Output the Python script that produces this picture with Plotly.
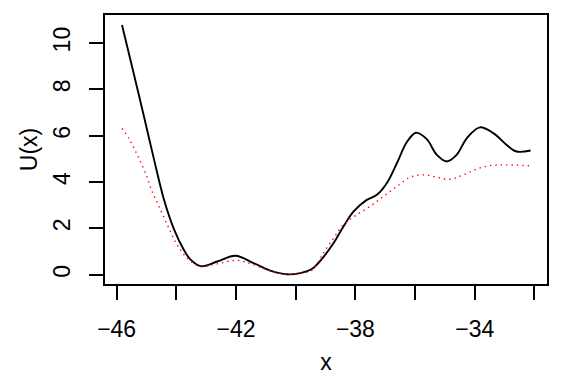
import plotly.graph_objects as go

# Data
black_x = [-45.82, -45.42, -45.09, -44.75, -44.42, -44.08, -43.75, -43.53, -43.19, -42.63,
           -42.02, -41.41, -40.85, -40.30, -39.85, -39.45, -39.10, -38.73, -38.40, -38.06,
           -37.62, -37.28, -36.95, -36.61, -36.28, -35.97, -35.61, -35.27, -34.94, -34.61,
           -34.27, -33.83, -33.38, -32.93, -32.60, -32.13]
black_y = [10.78, 8.64, 6.86, 4.99, 3.27, 1.97, 1.08, 0.66, 0.37, 0.57,
           0.82, 0.50, 0.18, 0.02, 0.07, 0.26, 0.72, 1.37, 2.08, 2.73,
           3.23, 3.45, 3.95, 4.81, 5.72, 6.13, 5.85, 5.17, 4.89, 5.17,
           5.89, 6.36, 6.11, 5.60, 5.32, 5.36]

red_x = [-45.82, -45.59, -45.31, -45.03, -44.81, -44.53, -44.25, -43.97, -43.64, -43.19,
         -42.63, -41.96, -41.41, -40.85, -40.30, -39.85, -39.45, -39.10, -38.73, -38.40,
         -37.95, -37.51, -37.06, -36.61, -36.17, -35.72, -35.27, -34.83, -34.38, -33.94,
         -33.49, -32.93, -32.13]
red_y = [6.32, 5.89, 5.17, 4.38, 3.59, 2.80, 2.01, 1.29, 0.72, 0.36,
         0.47, 0.62, 0.43, 0.17, 0.02, 0.06, 0.20, 0.88, 1.58, 2.16,
         2.59, 2.95, 3.38, 3.81, 4.21, 4.31, 4.21, 4.12, 4.31, 4.56,
         4.71, 4.74, 4.70]

x_ticks = [-46, -44, -42, -40, -38, -36, -34, -32]
x_ticktext = ["\u221246", "", "\u221242", "", "\u221238", "", "\u221234", ""]
y_ticks = [0, 2, 4, 6, 8, 10]
y_ticktext = ["0", "2", "4", "6", "8", "10"]

FONT = "Liberation Sans, Arial, Helvetica, sans-serif"
FS = 23

fig = go.Figure()
fig.add_trace(go.Scatter(x=black_x, y=black_y, mode="lines",
                         line=dict(color="black", width=1.9, shape="spline", smoothing=1.0),
                         showlegend=False, hoverinfo="skip"))
fig.add_trace(go.Scatter(x=red_x, y=red_y, mode="lines",
                         line=dict(color="#ff0000", width=1.4, dash="1.4px,4px",
                                   shape="spline", smoothing=1.0),
                         showlegend=False, hoverinfo="skip"))

axis_common = dict(showgrid=False, zeroline=False, showline=True, mirror=True,
                   linecolor="black", linewidth=1.5, ticks="outside", ticklen=14,
                   tickwidth=1.5, tickcolor="black", automargin=False,
                   tickfont=dict(family=FONT, size=FS, color="black"))

fig.update_layout(
    width=563, height=375,
    margin=dict(l=105, r=16, t=15, b=91),
    paper_bgcolor="white", plot_bgcolor="white",
    xaxis=dict(range=[-46.39, -31.58], tickmode="array", tickvals=x_ticks,
               ticktext=x_ticktext, ticklabelstandoff=10,
               title=dict(text="x", font=dict(family=FONT, size=FS, color="black"), standoff=13),
               **axis_common),
    yaxis=dict(range=[-0.40, 11.21], tickmode="array", tickvals=y_ticks,
               ticktext=y_ticktext, tickangle=-90, ticklabelstandoff=10,
               title=dict(text="U(x)", font=dict(family=FONT, size=FS, color="black"), standoff=5),
               **axis_common),
)

fig.write_html("out.html")
